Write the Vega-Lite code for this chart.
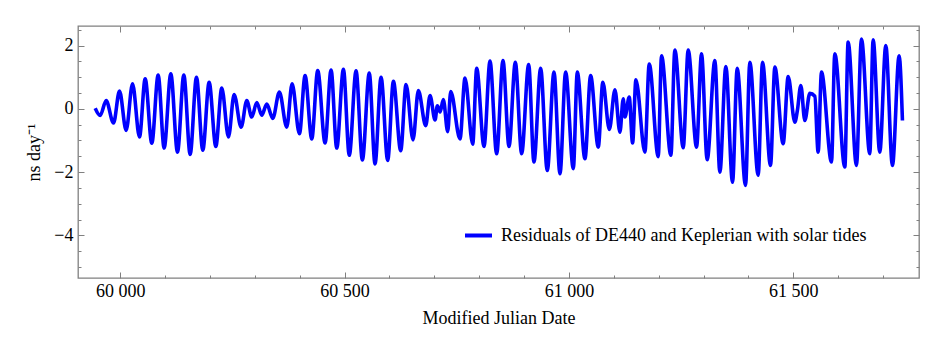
{
  "$schema": "https://vega.github.io/schema/vega-lite/v6.json",
  "width": 841,
  "height": 252,
  "autosize": "none",
  "padding": {"left": 78, "top": 26, "right": 28, "bottom": 80},
  "background": "white",
  "config": {
    "view": {"stroke": "#808080", "strokeWidth": 1.3},
    "font": "Liberation Serif",
    "axis": {
      "domain": false, "grid": false, "tickColor": "#808080", "tickWidth": 1,
      "labelFont": "Liberation Serif", "labelFontSize": 18, "labelColor": "#000000",
      "titleFont": "Liberation Serif", "titleFontSize": 18, "titleFontWeight": "normal", "titleColor": "#000000"
    },
    "legend": {"labelFont": "Liberation Serif", "labelFontSize": 18, "labelColor": "#000000", "labelLimit": 0}
  },
  "data": {"values": [
    {"mjd": 59944.3, "residual": 0.02}, {"mjd": 59955.4, "residual": -0.21}, {"mjd": 59968.8, "residual": 0.26},
    {"mjd": 59985.1, "residual": -0.45}, {"mjd": 59998.5, "residual": 0.56}, {"mjd": 60013.3, "residual": -0.68},
    {"mjd": 60027.5, "residual": 0.79}, {"mjd": 60043.0, "residual": -0.89}, {"mjd": 60055.7, "residual": 0.95},
    {"mjd": 60070.5, "residual": -1.09}, {"mjd": 60084.6, "residual": 1.07}, {"mjd": 60098.0, "residual": -1.24},
    {"mjd": 60112.8, "residual": 1.11}, {"mjd": 60127.7, "residual": -1.37}, {"mjd": 60141.8, "residual": 1.07},
    {"mjd": 60155.9, "residual": -1.44}, {"mjd": 60170.0, "residual": 1.0}, {"mjd": 60184.1, "residual": -1.31},
    {"mjd": 60198.2, "residual": 0.84}, {"mjd": 60213.1, "residual": -1.19}, {"mjd": 60226.4, "residual": 0.66},
    {"mjd": 60241.3, "residual": -0.89}, {"mjd": 60253.9, "residual": 0.45}, {"mjd": 60269.5, "residual": -0.58},
    {"mjd": 60282.1, "residual": 0.26}, {"mjd": 60293.2, "residual": -0.26}, {"mjd": 60304.4, "residual": 0.2},
    {"mjd": 60315.5, "residual": -0.2}, {"mjd": 60326.6, "residual": 0.15}, {"mjd": 60340.0, "residual": -0.3},
    {"mjd": 60354.8, "residual": 0.53}, {"mjd": 60371.2, "residual": -0.58}, {"mjd": 60383.1, "residual": 0.79},
    {"mjd": 60399.4, "residual": -0.79}, {"mjd": 60412.0, "residual": 1.05}, {"mjd": 60426.9, "residual": -0.95},
    {"mjd": 60440.2, "residual": 1.21}, {"mjd": 60456.6, "residual": -1.08}, {"mjd": 60469.9, "residual": 1.23},
    {"mjd": 60482.6, "residual": -1.24}, {"mjd": 60497.4, "residual": 1.25}, {"mjd": 60510.5, "residual": -1.47},
    {"mjd": 60525.6, "residual": 1.2}, {"mjd": 60539.7, "residual": -1.62}, {"mjd": 60555.0, "residual": 1.13},
    {"mjd": 60567.9, "residual": -1.74}, {"mjd": 60581.3, "residual": 1.0}, {"mjd": 60596.1, "residual": -1.63},
    {"mjd": 60608.8, "residual": 0.87}, {"mjd": 60625.1, "residual": -1.32}, {"mjd": 60637.0, "residual": 0.77},
    {"mjd": 60652.6, "residual": -0.98}, {"mjd": 60664.4, "residual": 0.58}, {"mjd": 60680.8, "residual": -0.53},
    {"mjd": 60690.4, "residual": 0.42}, {"mjd": 60701.6, "residual": -0.35}, {"mjd": 60706.8, "residual": 0.1},
    {"mjd": 60712.7, "residual": -0.1}, {"mjd": 60720.1, "residual": 0.29}, {"mjd": 60729.8, "residual": -0.72},
    {"mjd": 60736.5, "residual": 0.55}, {"mjd": 60757.2, "residual": -0.95}, {"mjd": 60768.4, "residual": 0.97},
    {"mjd": 60785.5, "residual": -1.12}, {"mjd": 60794.4, "residual": 1.28}, {"mjd": 60810.7, "residual": -1.19},
    {"mjd": 60824.1, "residual": 1.51}, {"mjd": 60838.9, "residual": -1.42}, {"mjd": 60853.0, "residual": 1.53},
    {"mjd": 60866.4, "residual": -1.19}, {"mjd": 60880.5, "residual": 1.47}, {"mjd": 60894.6, "residual": -1.42},
    {"mjd": 60910.2, "residual": 1.4}, {"mjd": 60922.0, "residual": -1.68}, {"mjd": 60936.9, "residual": 1.28},
    {"mjd": 60951.7, "residual": -1.95}, {"mjd": 60966.6, "residual": 1.16}, {"mjd": 60980.0, "residual": -2.05},
    {"mjd": 60992.6, "residual": 1.16}, {"mjd": 61009.7, "residual": -1.89}, {"mjd": 61018.6, "residual": 1.16},
    {"mjd": 61035.6, "residual": -1.58}, {"mjd": 61048.3, "residual": 1.05}, {"mjd": 61065.3, "residual": -1.21},
    {"mjd": 61075.5, "residual": 0.84}, {"mjd": 61090.0, "residual": -0.65}, {"mjd": 61102.4, "residual": 0.6},
    {"mjd": 61113.5, "residual": -0.74}, {"mjd": 61121.0, "residual": 0.32}, {"mjd": 61124.7, "residual": -0.26},
    {"mjd": 61134.3, "residual": 0.37}, {"mjd": 61141.8, "residual": -1.08}, {"mjd": 61149.2, "residual": 0.92},
    {"mjd": 61169.2, "residual": -1.37}, {"mjd": 61178.9, "residual": 1.42}, {"mjd": 61198.9, "residual": -1.51},
    {"mjd": 61206.3, "residual": 1.68}, {"mjd": 61227.1, "residual": -1.47}, {"mjd": 61236.0, "residual": 1.86},
    {"mjd": 61254.6, "residual": -1.23}, {"mjd": 61265.7, "residual": 1.86}, {"mjd": 61284.3, "residual": -1.21},
    {"mjd": 61295.4, "residual": 1.74}, {"mjd": 61308.0, "residual": -1.61}, {"mjd": 61325.1, "residual": 1.53},
    {"mjd": 61336.3, "residual": -2.0}, {"mjd": 61349.6, "residual": 1.34}, {"mjd": 61364.5, "residual": -2.32},
    {"mjd": 61374.9, "residual": 1.28}, {"mjd": 61393.4, "residual": -2.42}, {"mjd": 61403.1, "residual": 1.47},
    {"mjd": 61421.6, "residual": -2.1}, {"mjd": 61431.3, "residual": 1.47}, {"mjd": 61449.1, "residual": -1.79},
    {"mjd": 61458.8, "residual": 1.32}, {"mjd": 61477.3, "residual": -1.1}, {"mjd": 61488.5, "residual": 1.02},
    {"mjd": 61503.3, "residual": -0.42}, {"mjd": 61509.0, "residual": -0.05}, {"mjd": 61516.7, "residual": 0.74},
    {"mjd": 61525.6, "residual": -0.37}, {"mjd": 61536.7, "residual": 0.49}, {"mjd": 61547.9, "residual": 0.4},
    {"mjd": 61555.3, "residual": -1.37}, {"mjd": 61562.7, "residual": 1.16}, {"mjd": 61585.0, "residual": -1.68},
    {"mjd": 61592.4, "residual": 1.74}, {"mjd": 61614.7, "residual": -1.84}, {"mjd": 61622.1, "residual": 2.11},
    {"mjd": 61640.6, "residual": -1.79}, {"mjd": 61651.8, "residual": 2.21}, {"mjd": 61670.3, "residual": -1.42},
    {"mjd": 61677.8, "residual": 2.18}, {"mjd": 61692.6, "residual": -1.37}, {"mjd": 61706.0, "residual": 2.0},
    {"mjd": 61720.8, "residual": -1.79}, {"mjd": 61735.7, "residual": 1.68}, {"mjd": 61743.1, "residual": -0.37}
  ]},
  "layer": [
    {
      "mark": {"type": "line", "interpolate": "monotone", "strokeWidth": 3.6, "clip": true},
      "encoding": {
        "x": {"field": "mjd", "type": "quantitative", "scale": {"domain": [59906, 61780], "nice": false, "zero": false},
          "axis": {"orient": "bottom", "values": [60000, 60500, 61000, 61500], "ticks": false, "labelPadding": 4,
            "labelExpr": "substring(toString(datum.value), 0, 2) + ' ' + substring(toString(datum.value), 2)",
            "title": "Modified Julian Date", "titlePadding": 9}},
        "y": {"field": "residual", "type": "quantitative", "scale": {"domain": [-5.35, 2.62], "nice": false, "zero": false},
          "axis": {"orient": "left", "values": [2, 0, -2, -4], "ticks": false, "labelPadding": 5, "title": "ns day⁻¹", "titlePadding": 10}},
        "color": {"datum": "Residuals of DE440 and Keplerian with solar tides", "type": "nominal",
          "scale": {"range": ["#0000ff"]},
          "legend": {"title": null, "orient": "none", "legendX": 385, "legendY": 194, "symbolType": "stroke",
            "symbolSize": 729, "symbolStrokeWidth": 4, "labelOffset": 7, "padding": 0, "labelLimit": 0}}
      }
    },
    {
      "mark": {"type": "line", "opacity": 0},
      "encoding": {
        "x": {"field": "mjd", "type": "quantitative",
          "axis": {"orient": "bottom", "values": [59900, 60100, 60200, 60300, 60400, 60600, 60700, 60800, 60900, 61100, 61200, 61300, 61400, 61600, 61700],
            "labels": false, "tickSize": -3, "title": null}},
        "y": {"field": "residual", "type": "quantitative",
          "axis": {"orient": "left", "values": [2.5, 1.5, 1, 0.5, -0.5, -1, -1.5, -2.5, -3, -3.5, -4.5, -5],
            "labels": false, "tickSize": -3, "title": null}}
      }
    },
    {
      "mark": {"type": "line", "opacity": 0},
      "encoding": {
        "x": {"field": "mjd", "type": "quantitative",
          "axis": {"orient": "bottom", "values": [60000, 60500, 61000, 61500], "labels": false, "tickSize": -6, "title": null}},
        "y": {"field": "residual", "type": "quantitative",
          "axis": {"orient": "left", "values": [2, 0, -2, -4], "labels": false, "tickSize": -6, "title": null}}
      }
    },
    {
      "mark": {"type": "line", "opacity": 0},
      "encoding": {
        "x": {"field": "mjd", "type": "quantitative",
          "axis": {"orient": "top", "values": [59900, 60100, 60200, 60300, 60400, 60600, 60700, 60800, 60900, 61100, 61200, 61300, 61400, 61600, 61700],
            "labels": false, "tickSize": -3, "title": null}},
        "y": {"field": "residual", "type": "quantitative",
          "axis": {"orient": "right", "values": [2.5, 1.5, 1, 0.5, -0.5, -1, -1.5, -2.5, -3, -3.5, -4.5, -5],
            "labels": false, "tickSize": -3, "title": null}}
      }
    },
    {
      "mark": {"type": "line", "opacity": 0},
      "encoding": {
        "x": {"field": "mjd", "type": "quantitative",
          "axis": {"orient": "top", "values": [60000, 60500, 61000, 61500], "labels": false, "tickSize": -6, "title": null}},
        "y": {"field": "residual", "type": "quantitative",
          "axis": {"orient": "right", "values": [2, 0, -2, -4], "labels": false, "tickSize": -6, "title": null}}
      }
    }
  ],
  "resolve": {"axis": {"x": "independent", "y": "independent"}}
}
